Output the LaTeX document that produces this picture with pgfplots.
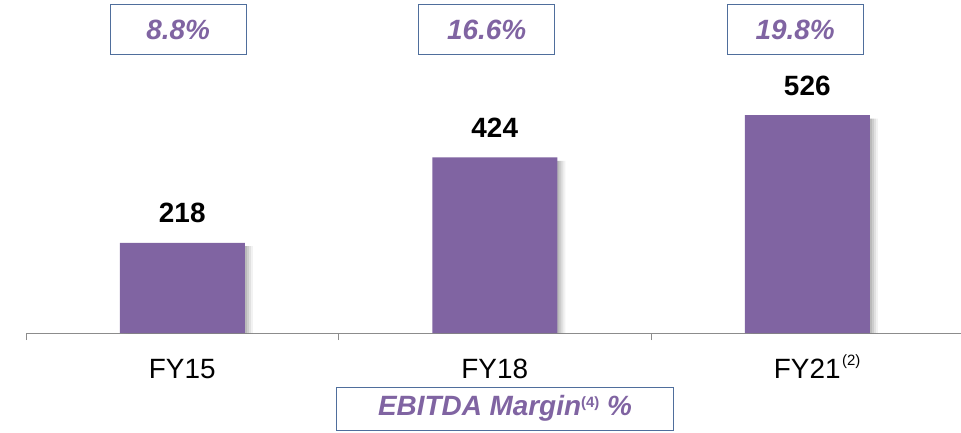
\documentclass[border=0pt]{standalone}
\usepackage{pgfplots}
\pgfplotsset{compat=1.18}
\usepackage{fontspec}
\setmainfont{Liberation Sans}
\definecolor{barpurple}{HTML}{8064A2}
\definecolor{boxblue}{HTML}{4F6E9C}
\definecolor{axgray}{HTML}{8C8C8C}
\begin{document}
\begin{tikzpicture}[x=1bp,y=1bp]
\useasboundingbox (-26,-99) rectangle (935,333);
\begin{axis}[
  at={(0,0)}, anchor=south west,
  scale only axis, width=937.5bp, height=331.2bp,
  xmin=-0.5, xmax=2.5, ymin=0, ymax=800,
  clip=false,
  /pgf/number format/assume math mode=true,
  axis x line=bottom, axis y line=none,
  x axis line style={-, draw=axgray, line width=1bp},
  xtick={0,1,2},
  xticklabels={FY15, FY18, FY21\rlap{\hspace{1.5bp}\raisebox{13bp}{\fontsize{15}{15}\selectfont(2)}}},
  major tick length=0pt,
  minor xtick={-0.5,0.5,1.5,2.5},
  minor tick length=7bp,
  xtick align=outside,
  minor x tick style={draw=axgray, line width=1bp},
  xticklabel style={font=\fontsize{28}{28}\selectfont, anchor=base, yshift=-45bp, text=black},
]
% soft shadow layers
\addplot[ybar, bar width=125bp, bar shift=2bp, fill=black, draw=none, fill opacity=0.09] coordinates {(0,210) (1,416) (2,518)};
\addplot[ybar, bar width=125bp, bar shift=4bp, fill=black, draw=none, fill opacity=0.09] coordinates {(0,210) (1,416) (2,518)};
\addplot[ybar, bar width=125bp, bar shift=6bp, fill=black, draw=none, fill opacity=0.07] coordinates {(0,210) (1,416) (2,518)};
\addplot[ybar, bar width=125bp, bar shift=8bp, fill=black, draw=none, fill opacity=0.05] coordinates {(0,210) (1,416) (2,518)};
% main bars
\addplot[ybar, bar width=125bp, bar shift=0bp, fill=barpurple, draw=none,
  nodes near coords,
  every node near coord/.append style={font=\bfseries\fontsize{28}{28}\selectfont, text=black, anchor=base, yshift=20bp}]
  coordinates {(0,218) (1,424) (2,526)};
% margin boxes
\addplot[draw=none, mark=none,
  point meta=explicit symbolic,
  nodes near coords={\pgfplotspointmeta\%},
  every node near coord/.append style={font=\bfseries\itshape\fontsize{28}{28}\selectfont, text=barpurple, draw=boxblue, line width=1bp, minimum width=136bp, minimum height=50bp, anchor=center, inner sep=0pt, fill=white}]
  table[meta=label] {
x y label
-0.013 732 8.8
0.974 732 16.6
1.961 732 19.8
};
\end{axis}
\node[draw=boxblue, line width=1bp, minimum width=337bp, minimum height=43bp, inner sep=0pt, text=barpurple, font=\bfseries\itshape\fontsize{28}{28}\selectfont] at (479,-75.5) {EBITDA Margin\raisebox{8.5bp}{\upshape\fontsize{15}{15}\selectfont(4)} \%};
\end{tikzpicture}
\end{document}
